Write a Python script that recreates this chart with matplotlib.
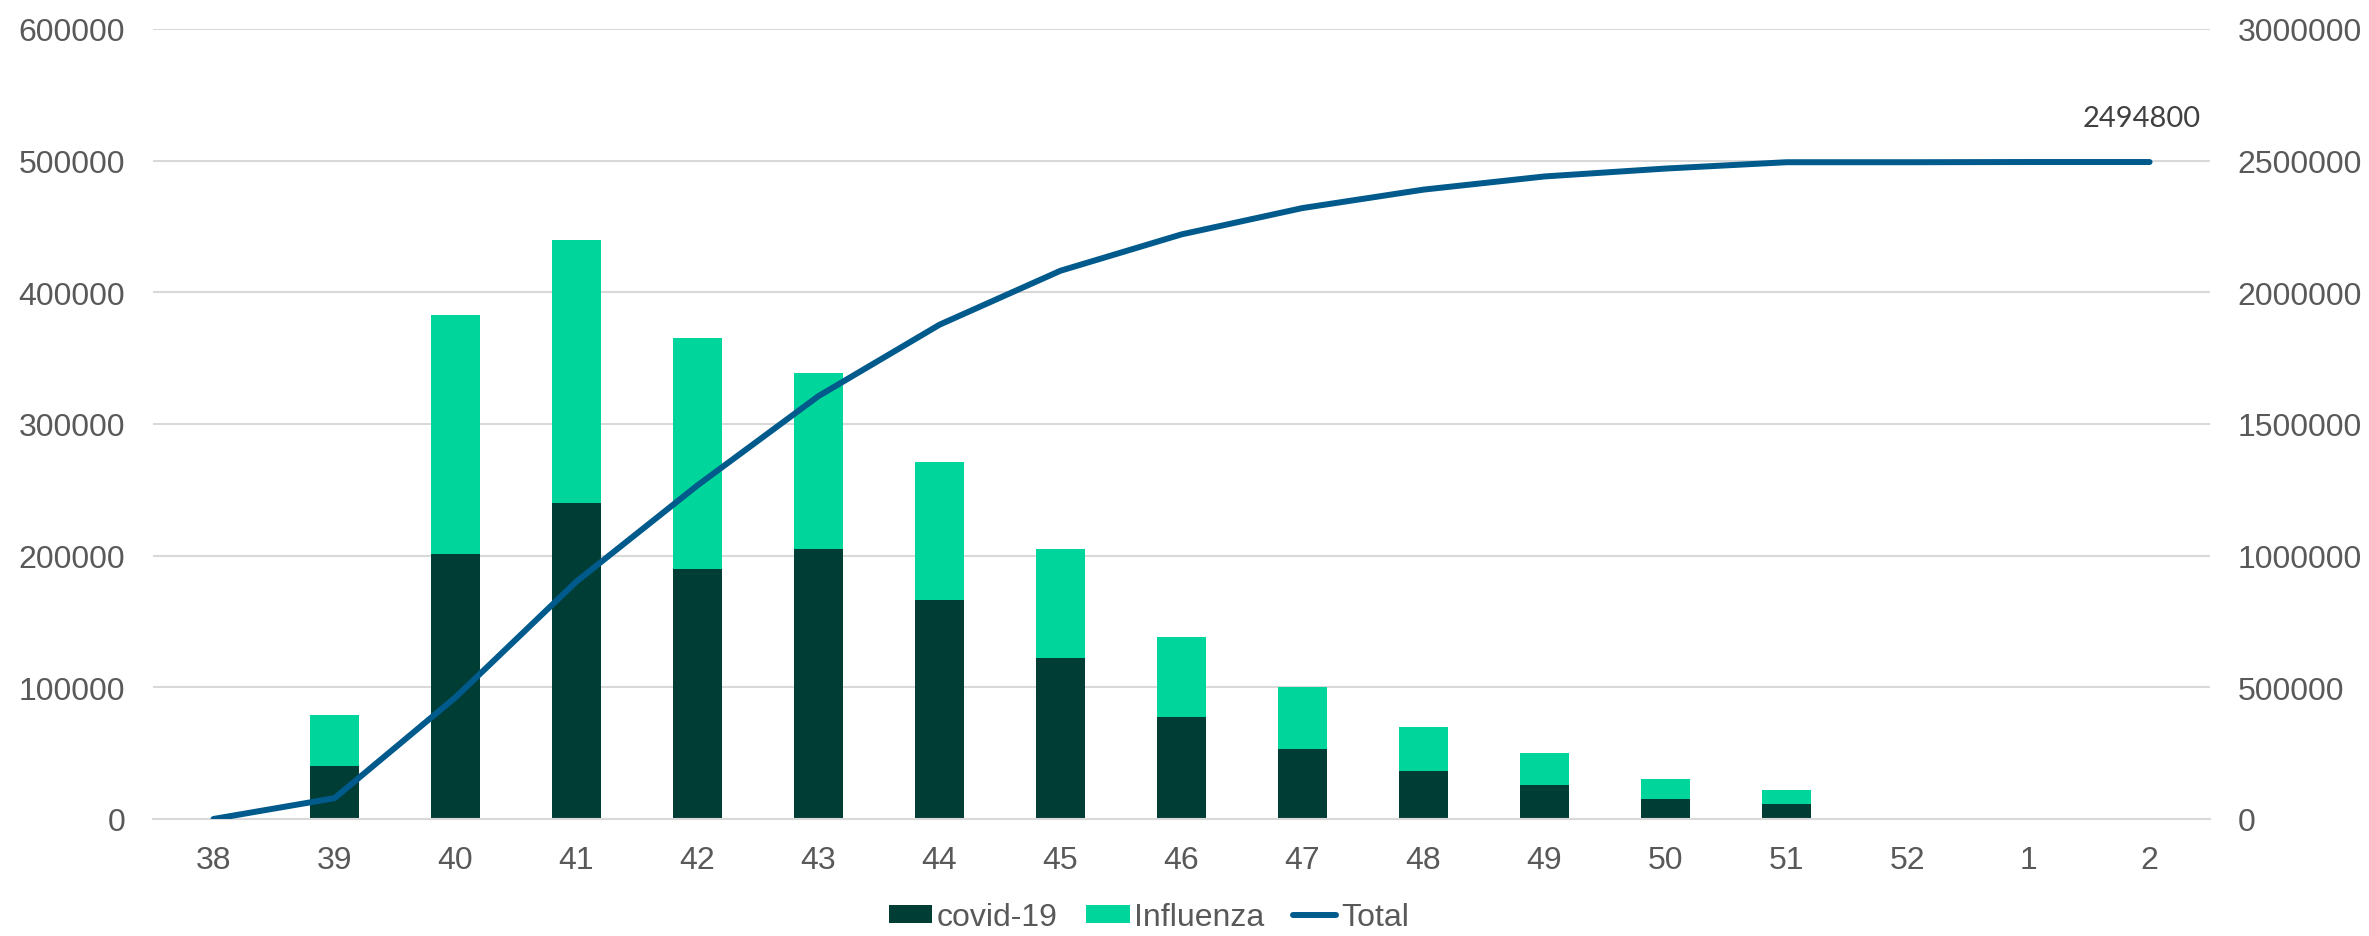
import numpy as np
import matplotlib
matplotlib.use('Agg')
import matplotlib.pyplot as plt
from matplotlib.ticker import FuncFormatter

# weekly data
weeks = ['38', '39', '40', '41', '42', '43', '44', '45', '46', '47', '48', '49', '50', '51', '52', '1', '2']
covid = [0, 40000, 201000, 240000, 190000, 205000, 166000, 122000, 77500, 53500, 36500, 26000, 15500, 11400, 0, 0, 0]
influenza = [0, 39000, 182000, 200000, 175000, 134000, 105000, 83000, 60500, 46500, 33500, 24000, 14500, 10600, 0, 1000, 0]
total = [0, 79000, 462000, 902000, 1267000, 1606000, 1877000, 2082000, 2220000, 2320000,
         2390000, 2440000, 2470000, 2494000, 2494000, 2494800, 2494800]

left_ticks = [0, 100000, 200000, 300000, 400000, 500000, 600000]
right_ticks = [0, 500000, 1000000, 1500000, 2000000, 2500000, 3000000]

# colours
c_covid = '#003e35'
c_flu = '#00d69b'
c_total = '#005a8c'
c_grid = '#d9d9d9'
c_text = '#595959'

plt.rcParams['font.family'] = ['Liberation Sans', 'DejaVu Sans']

fig = plt.figure(figsize=(23.69, 9.37), dpi=100)
ax = fig.add_axes([0.0646, 0.1249, 0.8683, 0.8431])
x = np.arange(len(weeks))

# stacked bars
b1 = ax.bar(x, covid, width=0.4, color=c_covid, label='covid-19', zorder=2)
b2 = ax.bar(x, influenza, width=0.4, bottom=covid, color=c_flu, label='Influenza', zorder=2)

ax.set_xlim(-0.5, len(weeks) - 0.5)
ax.set_ylim(0, 600000)
ax.set_yticks(left_ticks)
ax.set_xticks(x)
ax.set_xticklabels(weeks)
ax.yaxis.set_major_formatter(FuncFormatter(lambda v, p: f'{int(v)}'))
ax.grid(axis='y', color=c_grid, linewidth=1.5, zorder=0)
ax.set_axisbelow(True)
for s in ['top', 'left', 'right']:
    ax.spines[s].set_visible(False)
ax.spines['bottom'].set_color(c_grid)
ax.spines['bottom'].set_linewidth(1.5)
ax.tick_params(axis='both', length=0, labelsize=23, colors=c_text)
ax.tick_params(axis='x', pad=19)
ax.tick_params(axis='y', pad=20)

# cumulative total on secondary axis
ax2 = ax.twinx()
ln, = ax2.plot(x, total, color=c_total, linewidth=4.3, solid_capstyle='round', label='Total', zorder=3)
ax2.set_ylim(0, 3000000)
ax2.set_yticks(right_ticks)
ax2.yaxis.set_major_formatter(FuncFormatter(lambda v, p: f'{int(v)}'))
for s in ['top', 'left', 'right', 'bottom']:
    ax2.spines[s].set_visible(False)
ax2.tick_params(axis='y', length=0, labelsize=23, colors=c_text, pad=20)

# label on last point
ax2.annotate(f'{total[-1]}', xy=(x[-1], total[-1]), xytext=(-6, 32), textcoords='offset points',
             ha='center', va='center', fontsize=21, color='#404040', family=['Lato', 'DejaVu Sans'])

# legend
fig.legend([b1, b2, ln], ['covid-19', 'Influenza', 'Total'], loc='center', bbox_to_anchor=(0.485, 0.02),
           ncol=3, frameon=False, fontsize=23, labelcolor=c_text, handlelength=1.35,
           handleheight=0.5, handletextpad=0.15, columnspacing=0.9)

plt.savefig('out.png', dpi=100)
